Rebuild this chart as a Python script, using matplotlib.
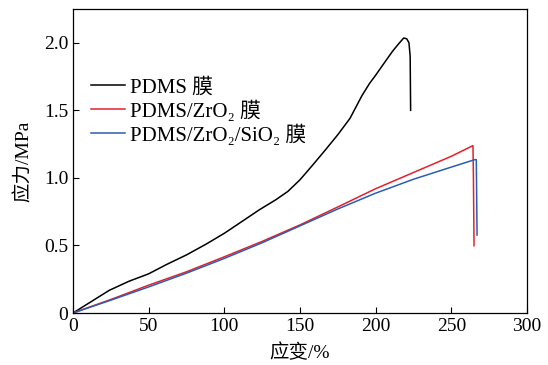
import matplotlib
matplotlib.use("Agg")
import matplotlib.pyplot as plt

plt.rcParams['font.family'] = ['Liberation Serif', 'Noto Sans CJK SC']

# Data
pdms_x = [0, 10, 24, 37, 50, 62, 75, 88, 100, 112, 123, 134, 142, 150, 158, 167, 175,
          183, 191, 196, 200, 205, 211, 215, 218.5, 220.5, 222, 222.8, 223.1]
pdms_y = [0, 0.07, 0.168, 0.235, 0.29, 0.36, 0.43, 0.51, 0.59, 0.68, 0.763, 0.838, 0.90,
          0.986, 1.09, 1.21, 1.32, 1.44, 1.61, 1.70, 1.76, 1.84, 1.935, 1.99, 2.035, 2.03,
          2.0, 1.90, 1.50]

zr_x = [0, 25, 50, 75, 100, 125, 150, 175, 200, 225, 250, 264.3, 264.6, 265]
zr_y = [0, 0.10, 0.206, 0.305, 0.416, 0.53, 0.652, 0.785, 0.92, 1.04, 1.16, 1.239, 1.0, 0.498]

si_x = [0, 25, 50, 75, 100, 125, 150, 175, 200, 225, 250, 265.5, 266.5, 267]
si_y = [0, 0.095, 0.193, 0.295, 0.404, 0.52, 0.645, 0.77, 0.887, 0.99, 1.08, 1.135, 1.135, 0.577]

labels = ['PDMS 膜', 'PDMS/ZrO\u2082 膜', 'PDMS/ZrO\u2082/SiO\u2082 膜']
colors = ['#000000', '#e5202b', '#2b5cb5']

x_ticks = [0, 50, 100, 150, 200, 250, 300]
y_ticks = [0, 0.5, 1.0, 1.5, 2.0]
y_ticklabels = ['0', '0.5', '1.0', '1.5', '2.0']

fig = plt.figure(figsize=(5.48, 3.65), dpi=100)
ax = fig.add_axes([73/548, 1-313/365, (527-73)/548, (313-9)/365])

for (xs, ys), lab, c in zip([(pdms_x, pdms_y), (zr_x, zr_y), (si_x, si_y)], labels, colors):
    ax.plot(xs, ys, color=c, lw=1.1, label=lab)

ax.set_xlim(0, 300)
ax.set_ylim(0, 2.25)
ax.set_xticks(x_ticks)
ax.set_yticks(y_ticks)
ax.set_yticklabels(y_ticklabels)
ax.tick_params(direction='in', length=4, width=0.8, labelsize=14)
for s in ax.spines.values():
    s.set_linewidth(0.9)
ax.set_xlabel('应变/%', fontsize=14, labelpad=6)
ax.set_ylabel('应力/MPa', fontsize=14, labelpad=8)

leg = ax.legend(loc='upper left', bbox_to_anchor=(0.021, 0.80), frameon=False,
                fontsize=15, handlelength=1.65, handletextpad=0.25, labelspacing=0.13,
                borderaxespad=0)

fig.savefig('out.png', dpi=100)
